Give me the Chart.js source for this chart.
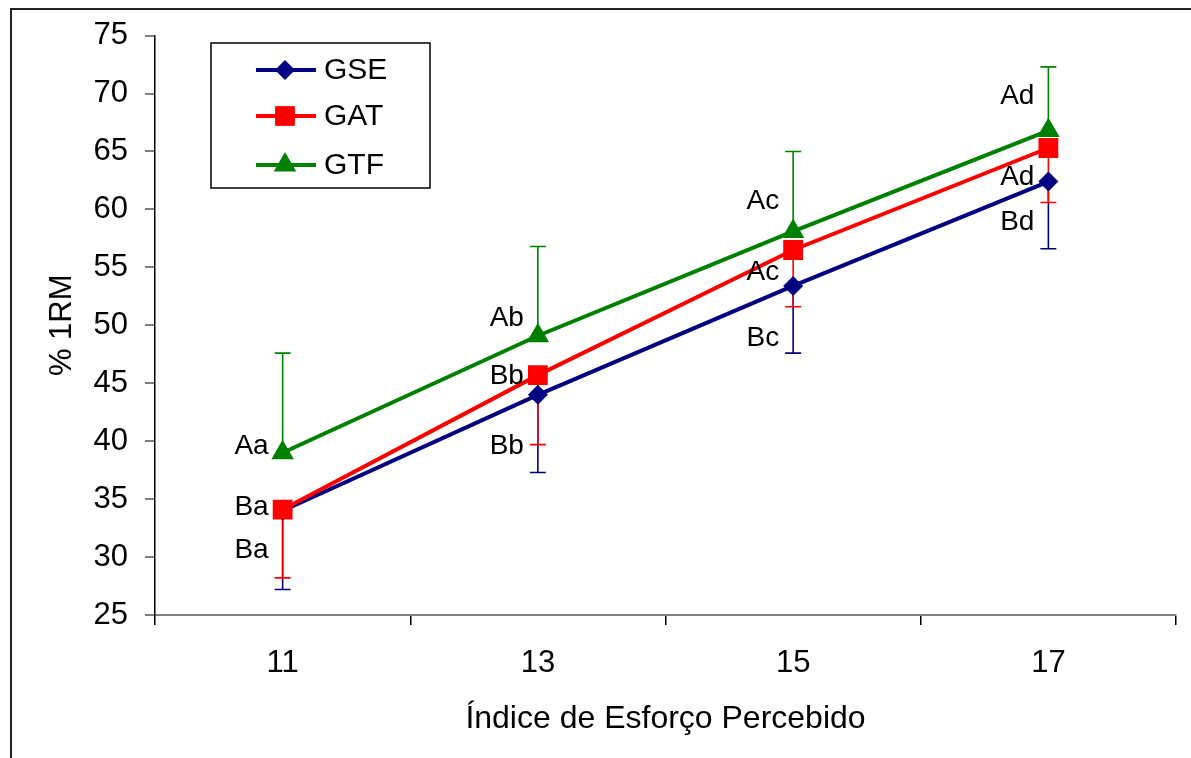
<!DOCTYPE html>
<html>
<head>
<meta charset="utf-8">
<script src="https://cdn.jsdelivr.net/npm/chart.js@4.4.0/dist/chart.umd.min.js"></script>
<style>
  body { margin: 0; background: #fff; }
  #wrap { position: relative; width: 1191px; height: 758px; overflow: hidden; }
  #frame { position: absolute; left: 10px; top: 8px; width: 1200px; height: 800px;
           border-left: 2px solid #222; border-top: 2px solid #222; }
  #box { position: absolute; left: 0; top: 0; width: 1191px; height: 758px; }
</style>
</head>
<body>
<div id="wrap">
  <div id="frame"></div>
  <div id="box"><canvas id="myChart"></canvas></div>
</div>
<script>
const labels = ['11', '13', '15', '17'];

const gse = [34.0, 44.0, 53.4, 62.4];
const gat = [34.1, 45.7, 56.5, 65.3];
const gtf = [39.0, 49.1, 58.1, 66.8];

// desvio padrão (GSE e GAT para baixo, GTF para cima)
const gseSD = [6.8, 6.7, 5.8, 5.8];
const gatSD = [5.9, 6.0, 4.9, 4.7];
const gtfSD = [8.6, 7.7, 6.9, 5.5];

const yTicks = [25, 30, 35, 40, 45, 50, 55, 60, 65, 70, 75];

// letras de significância
const noteText = ['Aa', 'Ba', 'Ba', 'Ab', 'Bb', 'Bb', 'Ac', 'Ac', 'Bc', 'Ad', 'Ad', 'Bd'];
const noteCat = [0, 0, 0, 1, 1, 1, 2, 2, 2, 3, 3, 3];
const noteValue = [39.6, 34.3, 30.6, 50.6, 45.6, 39.6, 60.7, 54.6, 48.9, 69.8, 62.8, 58.9];

const font = 'Liberation Sans, Arial, sans-serif';

const data = {
    labels: labels,
    datasets: [{
        label: 'GSE',
        data: gse,
        sd: gseSD,
        dir: 1,
        borderColor: '#000080',
        backgroundColor: '#000080',
        pointStyle: 'rectRot',
        pointRadius: 10,
        order: 3
    }, {
        label: 'GAT',
        data: gat,
        sd: gatSD,
        dir: 1,
        borderColor: '#ff0000',
        backgroundColor: '#ff0000',
        pointStyle: 'rect',
        pointRadius: 14,
        order: 2
    }, {
        label: 'GTF',
        data: gtf,
        sd: gtfSD,
        dir: -1,
        borderColor: '#008000',
        backgroundColor: '#008000',
        pointStyle: 'triangle',
        pointRadius: 13,
        order: 1
    }]
};

const errorBars = {
    id: 'errorBars',
    beforeDatasetsDraw(chart) {
        const ctx = chart.ctx;
        const y = chart.scales.y;
        ctx.save();
        chart.data.datasets.forEach((ds, i) => {
            const meta = chart.getDatasetMeta(i);
            ctx.strokeStyle = ds.borderColor;
            ctx.lineWidth = 1.6;
            meta.data.forEach((pt, j) => {
                const end = y.getPixelForValue(ds.data[j] - ds.dir * ds.sd[j]);
                ctx.beginPath();
                ctx.moveTo(pt.x, pt.y);
                ctx.lineTo(pt.x, end);
                ctx.moveTo(pt.x - 8, end);
                ctx.lineTo(pt.x + 8, end);
                ctx.stroke();
            });
        });
        ctx.restore();
    }
};

const notesAndLegend = {
    id: 'notesAndLegend',
    afterDraw(chart) {
        const ctx = chart.ctx;
        const x = chart.scales.x, y = chart.scales.y;
        ctx.save();
        ctx.fillStyle = '#000';
        ctx.font = '28px ' + font;
        ctx.textAlign = 'right';
        ctx.textBaseline = 'middle';
        noteText.forEach((t, i) => {
            ctx.fillText(t, x.getPixelForValue(noteCat[i]) - 14, y.getPixelForValue(noteValue[i]));
        });

        // legenda
        ctx.fillStyle = '#fff';
        ctx.fillRect(211, 43, 219, 145);
        ctx.strokeStyle = '#000';
        ctx.lineWidth = 1.5;
        ctx.strokeRect(211, 43, 219, 145);
        const rows = [70, 116, 165];
        chart.data.datasets.forEach((ds, i) => {
            const ly = rows[i];
            ctx.strokeStyle = ds.borderColor;
            ctx.fillStyle = ds.backgroundColor;
            ctx.lineWidth = 4;
            ctx.beginPath();
            ctx.moveTo(256, ly);
            ctx.lineTo(316, ly);
            ctx.stroke();
            Chart.helpers.drawPoint(ctx, {
                pointStyle: ds.pointStyle,
                radius: ds.pointRadius,
                rotation: 0,
                borderWidth: 0
            }, 285, ly);
            ctx.fillStyle = '#000';
            ctx.font = '30px ' + font;
            ctx.textAlign = 'left';
            ctx.fillText(ds.label, 324, ly + 1);
        });
        ctx.restore();
    }
};

const config = {
    type: 'line',
    data: data,
    options: {
        responsive: true,
        maintainAspectRatio: false,
        animation: false,
        layout: { padding: { left: 12, top: 35, right: 15, bottom: 0 } },
        elements: {
            line: { borderWidth: 4, tension: 0 },
            point: { borderWidth: 0 }
        },
        plugins: {
            legend: { display: false },
            tooltip: { enabled: false }
        },
        scales: {
            x: {
                offset: true,
                afterFit: s => { s.height = 143; },
                grid: {
                    offset: true,
                    drawOnChartArea: false,
                    color: '#000',
                    lineWidth: 1.5,
                    tickLength: 10
                },
                border: { color: '#808080', width: 2 },
                ticks: { color: '#000', padding: 20, font: { family: font, size: 31 } },
                title: {
                    display: true,
                    text: 'Índice de Esforço Percebido',
                    color: '#000',
                    font: { family: font, size: 32 },
                    padding: { top: 0, bottom: 20 }
                }
            },
            y: {
                min: 25,
                max: 75,
                afterFit: s => { s.width = 143; },
                afterBuildTicks: s => { s.ticks = yTicks.map(v => ({ value: v })); },
                grid: {
                    drawOnChartArea: false,
                    color: '#808080',
                    lineWidth: 2,
                    tickLength: 10
                },
                border: { color: '#000', width: 1.5 },
                ticks: { color: '#000', padding: 17, font: { family: font, size: 31 } },
                title: {
                    display: true,
                    text: '% 1RM',
                    color: '#000',
                    font: { family: font, size: 31 },
                    padding: { top: 32, bottom: 0 }
                }
            }
        }
    },
    plugins: [errorBars, notesAndLegend]
};

const myChart = new Chart(
    document.getElementById('myChart'),
    config
);
</script>
</body>
</html>
